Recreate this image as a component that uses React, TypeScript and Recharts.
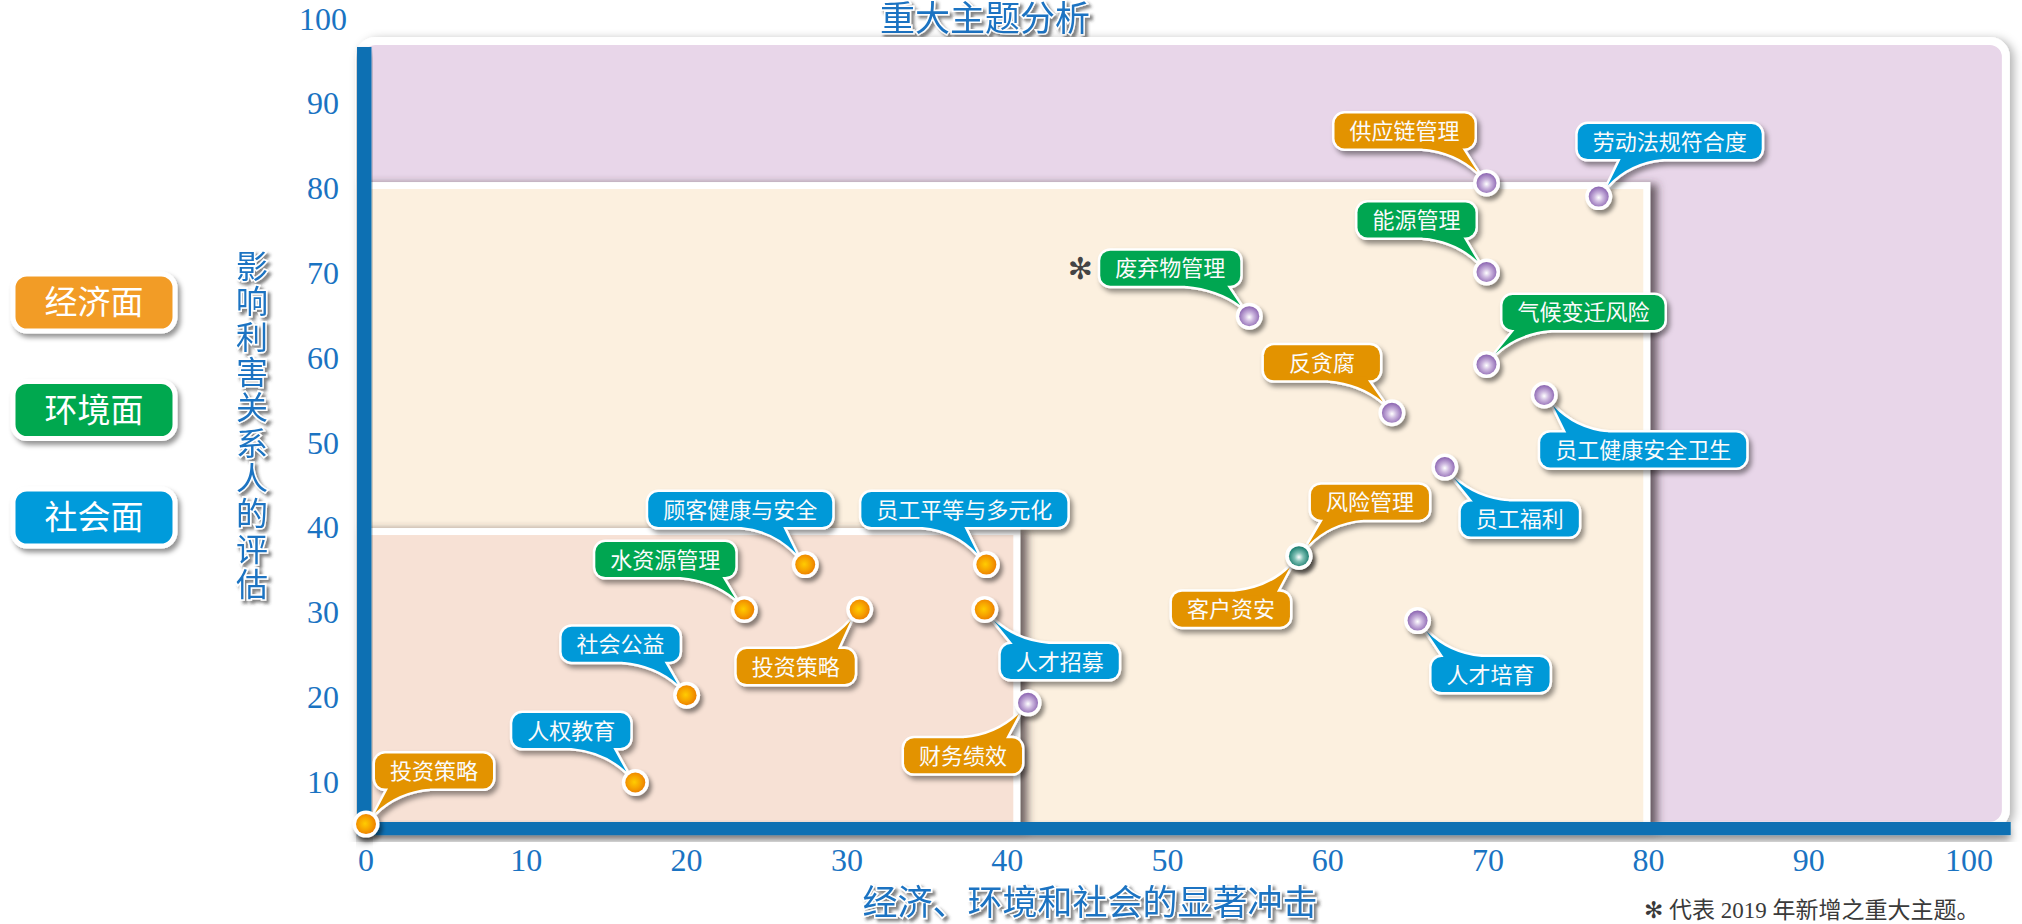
import React from 'react';
import { ScatterChart, Scatter, XAxis, YAxis, ReferenceArea } from 'recharts';

// ---------- data ----------
const topics = [
  '投资策略', '人权教育', '社会公益', '水资源管理', '顾客健康与安全', '投资策略', '员工平等与多元化',
  '人才招募', '财务绩效', '废弃物管理', '反贪腐', '风险管理', '客户资安', '人才培育', '员工福利',
  '供应链管理', '能源管理', '气候变迁风险', '员工健康安全卫生', '劳动法规符合度',
];
const impactScores = [0, 16.8, 20.0, 23.6, 27.4, 30.8, 38.7, 38.6, 41.3, 55.1, 64.0, 58.2, 58.2, 65.6, 67.3, 69.9, 69.9, 69.9, 73.5, 76.9];
const stakeholderScores = [5.0, 9.9, 20.2, 30.3, 35.6, 30.3, 35.6, 30.3, 19.3, 64.9, 53.5, 36.6, 36.6, 29.0, 47.1, 80.6, 70.1, 59.2, 55.6, 79.0];
const topicAspects = [
  '经济面', '社会面', '社会面', '环境面', '社会面', '经济面', '社会面', '社会面', '经济面', '环境面',
  '经济面', '经济面', '经济面', '社会面', '社会面', '经济面', '环境面', '环境面', '社会面', '社会面',
];
const pointTiers = [
  'low', 'low', 'low', 'low', 'low', 'low', 'low', 'low', 'high', 'high',
  'high', 'dual', 'dual', 'high', 'high', 'high', 'high', 'high', 'high', 'high',
];
const newTopicFlags = [false, false, false, false, false, false, false, false, false, true, false, false, false, false, false, false, false, false, false, false];
const aspects = ['经济面', '环境面', '社会面'];
const xTicks = [0, 10, 20, 30, 40, 50, 60, 70, 80, 90, 100];
const yTicks = [10, 20, 30, 40, 50, 60, 70, 80, 90, 100];
// materiality zones (right / top boundaries in chart units)
const zoneRight = [102.3, 79.9, 40.6];
const zoneTop = [97.35, 80.3, 39.5];

// ---------- layout / style (kept apart from data) ----------
const calloutOffsets: [number, number][] = [
  [68, -53], [-64, -52], [-66, -51], [-79, -50], [-65, -55], [-64, 57], [-22, -55],
  [75, 52], [-65, 53], [-79, -48], [-70, -50], [71, -54], [-68, 53], [73, 54], [75, 52],
  [-82, -52], [-70, -52], [97, -52], [99, 55], [71, -55],
];
const ASPECT_FILL: Record<string, string> = { 经济面: '#e39300', 环境面: '#00a651', 社会面: '#0099d8' };
const LEGEND_FILL: Record<string, string> = { 经济面: '#f29c28', 环境面: '#00a84f', 社会面: '#049bdb' };
const ZONE_FILL = ['#e8d6e9', '#fcf0df', '#f7e1d5'];
const BLUE = '#0a6fb3';
const TEXT_BLUE = '#1a73c2';
const CJK = '"Noto Sans CJK SC", "Noto Sans CJK TC", sans-serif';
const SERIF = '"Liberation Serif", "DejaVu Serif", serif';

const rows = topics.map((name, i) => ({
  name,
  x: impactScores[i],
  y: stakeholderScores[i],
  aspect: topicAspects[i],
  tier: pointTiers[i],
  isNew: newTopicFlags[i],
  dx: calloutOffsets[i][0],
  dy: calloutOffsets[i][1],
}));

const Defs = () => (
  <svg width={0} height={0} style={{ position: 'absolute' }}>
    <defs>
      <radialGradient id="gradlow" cx="45%" cy="48%" r="55%">
        <stop offset="0%" stopColor="#ffcc00" />
        <stop offset="55%" stopColor="#f7a400" />
        <stop offset="100%" stopColor="#ec8000" />
      </radialGradient>
      <radialGradient id="gradhigh" cx="50%" cy="55%" r="55%">
        <stop offset="0%" stopColor="#ffffff" />
        <stop offset="40%" stopColor="#cdb8df" />
        <stop offset="100%" stopColor="#8a63b0" />
      </radialGradient>
      <radialGradient id="graddual" cx="50%" cy="55%" r="55%">
        <stop offset="0%" stopColor="#ffffff" />
        <stop offset="40%" stopColor="#7fc0b5" />
        <stop offset="100%" stopColor="#13786a" />
      </radialGradient>
      <filter id="panelShadow" x="-5%" y="-10%" width="110%" height="120%">
        <feDropShadow dx="4" dy="2" stdDeviation="5" floodColor="#000" floodOpacity="0.3" />
      </filter>
      <filter id="zoneShadow" x="-5%" y="-10%" width="115%" height="120%">
        <feDropShadow dx="7" dy="2" stdDeviation="4" floodColor="#3c3238" floodOpacity="0.75" />
      </filter>
      <filter id="barShadow" x="-5%" y="-10%" width="110%" height="160%">
        <feDropShadow dx="0" dy="6" stdDeviation="4" floodColor="#000" floodOpacity="0.4" />
      </filter>
      <filter id="calloutShadow" x="-20%" y="-40%" width="140%" height="190%">
        <feDropShadow dx="3" dy="4" stdDeviation="2.5" floodColor="#000" floodOpacity="0.42" />
      </filter>
      <filter id="dotShadow" x="-50%" y="-50%" width="200%" height="200%">
        <feDropShadow dx="3" dy="4" stdDeviation="2" floodColor="#000" floodOpacity="0.45" />
      </filter>
      <filter id="textShadow" x="-10%" y="-30%" width="120%" height="170%">
        <feDropShadow dx="3" dy="3" stdDeviation="1.6" floodColor="#333" floodOpacity="0.6" />
      </filter>
    </defs>
  </svg>
);

const zoneShape = (i: number) => (p: any) => (
  <rect
    x={p.x}
    y={p.y}
    width={p.width}
    height={p.height}
    rx={i === 0 ? 16 : 0}
    fill={ZONE_FILL[i]}
    stroke="#ffffff"
    strokeWidth={i === 0 ? 8 : 7}
    filter={`url(#${i === 0 ? 'panelShadow' : 'zoneShadow'})`}
  />
);

const barShape = (p: any) => (
  <rect x={p.x} y={p.y} width={p.width} height={p.height} fill={BLUE} filter="url(#barShadow)" />
);

const Callout = (props: any) => {
  const { cx, cy, payload } = props;
  if (cx == null || cy == null || !payload) return <g />;
  const { name, aspect, dx, dy, isNew } = payload;
  const n = Array.from(name as string).length;
  const w = Math.max(116, n * 22 + 30);
  const h = 35;
  const bx = cx + dx;
  const by = cy + dy;
  const left = bx - w / 2;
  const right = bx + w / 2;
  const top = by - h / 2;
  const bottom = by + h / 2;
  const sx = dx < 0 ? -1 : 1;
  const sy = dy < 0 ? -1 : 1;
  const tipX = cx + sx * 9;
  const tipY = cy + sy * 11;
  const edgeY = sy < 0 ? bottom : top;
  const clamp = (v: number) => Math.min(right - 12, Math.max(left + 12, v));
  const b2 = clamp(tipX + sx * 13);
  const b1 = clamp(tipX + sx * 55);
  const ctrlX = tipX + sx * 22;
  const ctrlY = edgeY - sy * 3;
  const tail = `M ${b1} ${edgeY + sy * 4} L ${b1} ${edgeY} Q ${ctrlX} ${ctrlY} ${tipX} ${tipY} L ${b2} ${edgeY} L ${b2} ${edgeY + sy * 4} Z`;
  const fill = ASPECT_FILL[aspect];
  return (
    <g>
      <g filter="url(#calloutShadow)">
        <rect x={left} y={top} width={w} height={h} rx={10} fill={fill} stroke="#fff" strokeWidth={5} />
        <path d={tail} fill={fill} stroke="#fff" strokeWidth={5} strokeLinejoin="round" />
      </g>
      <rect x={left} y={top} width={w} height={h} rx={10} fill={fill} />
      <path d={tail} fill={fill} />
      <text x={bx} y={by + 8} textAnchor="middle" fontSize={22} fontFamily={CJK} fill="#fbfbfb">
        {name}
      </text>
      {isNew && (
        <text x={left - 20} y={by + 11} textAnchor="middle" fontSize={30} fontFamily='"DejaVu Sans", sans-serif' fill="#444">
          ✻
        </text>
      )}
    </g>
  );
};

const Dot = (props: any) => {
  const { cx, cy, payload } = props;
  if (cx == null || cy == null || !payload) return <g />;
  return (
    <g>
      <circle cx={cx} cy={cy} r={13.5} fill="#ffffff" filter="url(#dotShadow)" />
      <circle cx={cx} cy={cy} r={10} fill={`url(#grad${payload.tier})`} />
    </g>
  );
};

const XTick = (props: any) => {
  const { x, y, payload } = props;
  return (
    <text x={x} y={y + 4} textAnchor="middle" fontSize={32} fontFamily={SERIF} fill={TEXT_BLUE}>
      {payload.value}
    </text>
  );
};

const YTick = (props: any) => {
  const { x, y, payload } = props;
  return (
    <text x={x - 43} y={y + 11} textAnchor="middle" fontSize={32} fontFamily={SERIF} fill={TEXT_BLUE}>
      {payload.value}
    </text>
  );
};

const yTitle = '影响利害关系人的评估';

const Decorations = () => (
  <g>
    {/* title */}
    <text
      x={985}
      y={31}
      textAnchor="middle"
      fontSize={35}
      fontFamily={CJK}
      fill={TEXT_BLUE}
      stroke="#fff"
      strokeWidth={3}
      paintOrder="stroke"
      filter="url(#textShadow)"
    >
      重大主题分析
    </text>
    {/* x axis title */}
    <text
      x={1090}
      y={915}
      textAnchor="middle"
      fontSize={35}
      fontFamily={CJK}
      fill={TEXT_BLUE}
      stroke="#fff"
      strokeWidth={3}
      paintOrder="stroke"
      filter="url(#textShadow)"
    >
      经济、环境和社会的显著冲击
    </text>
    {/* y axis title (vertical) */}
    <text
      x={252}
      y={250}
      fontSize={32}
      fontFamily={CJK}
      fill={TEXT_BLUE}
      stroke="#fff"
      strokeWidth={3}
      paintOrder="stroke"
      filter="url(#textShadow)"
      style={{ writingMode: 'vertical-rl', letterSpacing: '3.3px' } as any}
    >
      {yTitle}
    </text>
    {/* legend */}
    {aspects.map((a, i) => {
      const top = 274 + i * 107.5;
      return (
        <g key={a}>
          <rect x={13} y={top} width={162} height={57} rx={14} fill={LEGEND_FILL[a]} stroke="#fff" strokeWidth={5} filter="url(#calloutShadow)" />
          <text x={94} y={top + 40} textAnchor="middle" fontSize={33} fontFamily={CJK} fill="#fff">
            {a}
          </text>
        </g>
      );
    })}
    {/* footnote */}
    <text x={1644} y={918} fontSize={23} fontFamily={`${SERIF}, ${CJK}`} fill="#3a3a3a">
      <tspan fontFamily='"DejaVu Sans", sans-serif'>✻</tspan> 代表 2019 年新增之重大主题。
    </text>
  </g>
);

export default function App() {
  return (
    <div style={{ position: 'absolute', left: 0, top: 0, width: 2022, height: 924, overflow: 'hidden', background: '#fff' }}>
      <Defs />
      <ScatterChart width={2022} height={924} margin={{ top: 18.5, right: 53, bottom: 0, left: 286 }}>
        <XAxis
          type="number"
          dataKey="x"
          domain={[0, 100]}
          ticks={xTicks}
          axisLine={false}
          tickLine={false}
          tickSize={0}
          tickMargin={0}
          height={57.5}
          interval={0}
          tick={<XTick />}
        />
        <YAxis
          type="number"
          dataKey="y"
          domain={[0, 100]}
          ticks={yTicks}
          axisLine={false}
          tickLine={false}
          tickSize={0}
          tickMargin={0}
          width={80}
          interval={0}
          tick={<YTick />}
        />
        {zoneRight.map((xr, i) => (
          <ReferenceArea
            key={`zone${i}`}
            x1={-0.4}
            x2={xr}
            y1={4.8}
            y2={zoneTop[i]}
            ifOverflow="visible"
            shape={zoneShape(i)}
          />
        ))}
        <ReferenceArea x1={-0.56} x2={102.6} y1={3.7} y2={5.25} ifOverflow="visible" shape={barShape} />
        <ReferenceArea x1={-0.56} x2={0.34} y1={3.7} y2={96.64} ifOverflow="visible" shape={barShape} />
        <Scatter data={rows} shape={<Callout />} isAnimationActive={false} />
        <Scatter data={rows} shape={<Dot />} isAnimationActive={false} />
        <Decorations />
      </ScatterChart>
    </div>
  );
}
